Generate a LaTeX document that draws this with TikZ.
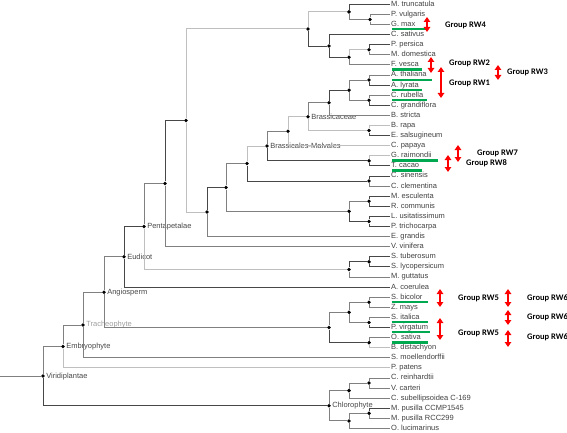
\documentclass[tikz,border=0pt]{standalone}
\usepackage{fontspec}
\setmainfont{Liberation Sans}
\newfontfamily\grpfont{Carlito}
\usetikzlibrary{arrows.meta}
\definecolor{hlgreen}{RGB}{0,168,80}
\newcommand{\row}[1]{4.3+10.1*(#1-1)}

\begin{document}
\begin{tikzpicture}[x=1pt, y=-1pt,
    dk/.style={draw=black!72, line width=0.9pt},
    md/.style={draw=black!50, line width=0.9pt},
    lt/.style={draw=black!25, line width=0.9pt},
    dot/.style={circle, fill=black, inner sep=0pt, minimum size=3.8pt},
    lab/.style={font=\fontsize{7.5}{8}\selectfont, text=black!72, inner sep=1pt},
    leaf/.style={anchor=west, inner sep=1pt, text height=5.5pt, text depth=1.6pt,
                 text=black!75, font=\fontsize{7.5}{8}\selectfont},
    hl/.style={draw=hlgreen, line width=2.4pt},
    rw/.style={draw=red, line width=1.8pt, {Triangle[width=6.5pt,length=5pt]}-{Triangle[width=6.5pt,length=5pt]}},
    grp/.style={anchor=west, inner sep=0pt, font=\grpfont\bfseries\fontsize{8.5}{9}\selectfont}]

    \useasboundingbox (0,0) rectangle (567,433); % same size as the figure

    % leaves, one row each
    \foreach \name [count=\i] in {M. truncatula, P. vulgaris, G. max, C. sativus, P. persica,
        M. domestica, F. vesca, A. thaliana, A. lyrata, C. rubella, C. grandiflora, B. stricta,
        B. rapa, E. salsugineum, C. papaya, G. raimondii, T. cacao, C. sinensis, C. clementina,
        M. esculenta, R. communis, L. usitatissimum, P. trichocarpa, E. grandis, V. vinifera,
        S. tuberosum, S. lycopersicum, M. guttatus, A. coerulea, S. bicolor, Z. mays, S. italica,
        P. virgatum, O. sativa, B. distachyon, S. moellendorffii, P. patens, C. reinhardtii,
        V. carteri, C. subellipsoidea C-169, M. pusilla CCMP1545, M. pusilla RCC299, O. lucimarinus}
        \node[leaf] (l\i) at (390,{\row{\i}}) {\name};

    % internal nodes, y given in rows
    \node[dot] (pv)   at (370,{\row{2.5}}) {};
    \node[dot] (mt)   at (349,{\row{1.75}}) {};
    \node[dot] (ros1) at (369,{\row{5.5}}) {};
    \node[dot] (ros)  at (349,{\row{6.25}}) {};
    \node[dot] (cuc)  at (329,{\row{5.125}}) {};
    \node[dot] (fab)  at (308,{\row{3.4375}}) {};
    \node[dot] (ara)  at (369,{\row{8.5}}) {};
    \node[dot] (cap)  at (369,{\row{10.5}}) {};
    \node[dot] (ac)   at (349,{\row{9.5}}) {};
    \node[dot] (bs)   at (329,{\row{10.75}}) {};
    \node[dot] (br)   at (369,{\row{13.5}}) {};
    \node[dot, label={[lab]right:Brassicaceae}] (brc) at (308,{\row{12.125}}) {};
    \node[dot] (bcp)  at (288,{\row{13.5625}}) {};
    \node[dot] (gt)   at (369,{\row{16.5}}) {};
    \node[dot, label={[lab]right:Brassicales-Malvales}] (bm) at (267,{\row{15.03}}) {};
    \node[dot] (cit)  at (369,{\row{18.5}}) {};
    \node[dot] (malv) at (247,{\row{16.77}}) {};
    \node[dot] (mr)   at (369,{\row{20.5}}) {};
    \node[dot] (lp)   at (369,{\row{22.5}}) {};
    \node[dot] (malp) at (349,{\row{21.5}}) {};
    \node[dot] (ros2) at (226,{\row{19.13}}) {};
    \node[dot] (myr)  at (207,{\row{21.57}}) {};
    \node[dot] (rsd)  at (186,{\row{12.5}}) {};
    \node[dot] (vit)  at (165,{\row{18.75}}) {};
    \node[dot] (sol)  at (369,{\row{26.5}}) {};
    \node[dot] (ast)  at (349,{\row{27.25}}) {};
    \node[dot, label={[lab]right:Pentapetalae}] (pent) at (144,{\row{23}}) {};
    \node[dot, label={[lab]right:Eudicot}] (eud) at (124,{\row{26}}) {};
    \node[dot] (sz)   at (369,{\row{30.5}}) {};
    \node[dot] (sp)   at (369,{\row{32.5}}) {};
    \node[dot] (pan)  at (349,{\row{31.5}}) {};
    \node[dot] (ob)   at (369,{\row{34.5}}) {};
    \node[dot] (poa)  at (329,{\row{33}}) {};
    \node[dot, label={[lab]right:Angiosperm}] (ang) at (104,{\row{29.5}}) {};
    \node[dot, label={[lab, text=black!38]right:Tracheophyte}] (tra) at (83,{\row{32.75}}) {};
    \node[dot, label={[lab]right:Embryophyte}] (emb) at (63,{\row{34.875}}) {};
    \node[dot] (cv)   at (369,{\row{38.5}}) {};
    \node[dot] (chl1) at (349,{\row{39.25}}) {};
    \node[dot] (mp)   at (369,{\row{41.5}}) {};
    \node[dot] (chl2) at (349,{\row{42.25}}) {};
    \node[dot, label={[lab]right:Chlorophyte}] (chl) at (329,{\row{40.75}}) {};
    \node[dot, label={[lab]right:Viridiplantae}] (vir) at (43,{\row{37.81}}) {};
    \coordinate (root) at (0,{\row{37.81}});

    % branches, by shade
    \draw[md] (root) -- (vir);
    \foreach \p/\c in {mt/l1, cuc/l4, cuc/ros, fab/cuc, ros1/l5, ara/l9, cap/l11, bs/ac, br/l14,
                       bm/gt, gt/l17, malv/cit, cit/l18, mr/l20, mr/l21, lp/l22, lp/l23, malp/lp,
                       myr/ros2, vit/rsd, sol/l26, sol/l27, ast/sol, eud/pent, eud/l29, sp/l33,
                       poa/ob, vir/chl, mp/l41}
        \draw[dk] (\p) |- (\c);
    \foreach \p/\c in {mt/pv, pv/l2, pv/l3, ros/l7, ros1/l6, ac/ara, ac/cap, ara/l8, cap/l10,
                       bs/l12, brc/bs, bm/bcp, cit/l19, malp/mr, ros2/malv, ros2/malp, myr/l24,
                       vit/l25, ast/l28, pent/vit, sz/l30, sz/l31, sp/l32, pan/sz, pan/sp, ob/l34,
                       poa/pan, ang/eud, ang/poa, tra/ang, tra/l36, emb/tra, vir/emb, chl/chl1,
                       chl/chl2, chl1/cv, chl1/l40, cv/l38, cv/l39, chl2/mp, chl2/l43, mp/l42}
        \draw[md] (\p) |- (\c);
    \foreach \p/\c in {fab/mt, ros/ros1, brc/br, br/l13, bcp/brc, bcp/l15, gt/l16, malv/bm,
                       rsd/fab, rsd/myr, pent/ast, ob/l35, emb/l37}
        \draw[lt] (\p) |- (\c);

    % green marks under the chosen species
    \foreach \i/\w in {3/36, 7/30, 8/40, 9/30, 10/35, 16/46, 17/30, 30/36, 32/36, 33/38, 34/36}
        \draw[hl] ([xshift=1.5pt]l\i.south west) -- ++(\w,0);

    % red arrows and group names
    \foreach \x/\t/\b in {427/17/32, 431/57/73, 441/67/98, 498/65/80, 458/145/162, 448/155/172,
                          440/289/307, 508/289/307, 508/310/325, 440/318/340, 508/330/347}
        \draw[rw] (\x,\t) -- (\x,\b);
    \foreach \x/\y/\g [count=\k] in {445/25/4, 449/63/2, 449/83/1, 507/72/3, 477/153/7, 466/163/8,
                                     458/298/5, 527/298/6, 527/317/6, 458/333/5, 527/337/6}
        \node[grp] (grp\k) at (\x,\y) {Group RW\g};

\end{tikzpicture}
\end{document}
